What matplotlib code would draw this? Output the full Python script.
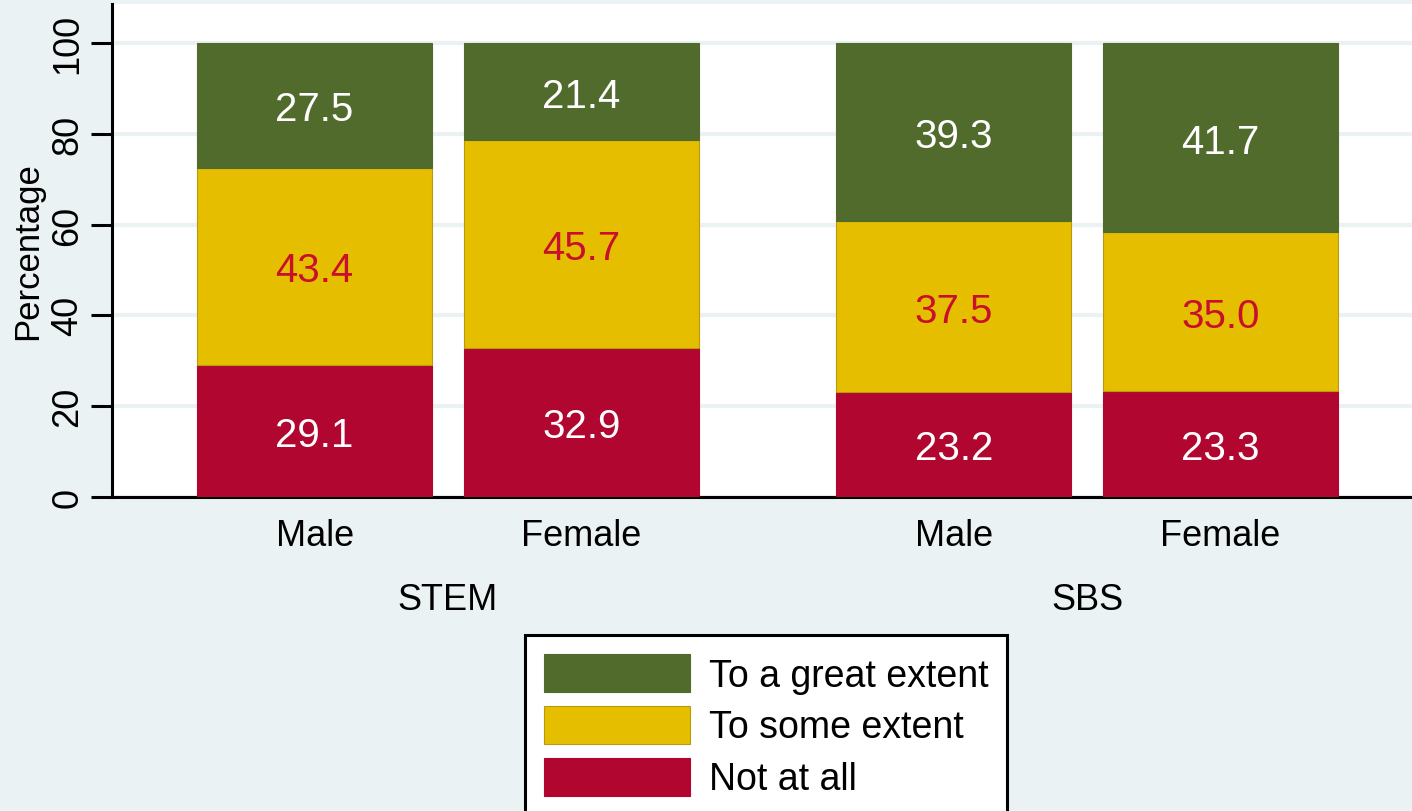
import matplotlib
matplotlib.use("Agg")
import matplotlib.pyplot as plt
import matplotlib.transforms as mtransforms
import numpy as np

plt.rcParams["font.family"] = ["Liberation Sans", "DejaVu Sans"]

# data
groups = ["STEM", "SBS"]
genders = ["Male", "Female"]
levels = ["Not at all", "To some extent", "To a great extent"]
not_at_all = [29.1, 32.9, 23.2, 23.3]
some_extent = [43.4, 45.7, 37.5, 35.0]
great_extent = [27.5, 21.4, 39.3, 41.7]

colors = {"Not at all": "#B00630", "To some extent": "#E6BE00", "To a great extent": "#506B2C"}
edges = {"Not at all": "#B00630", "To some extent": "#B89A10", "To a great extent": "#506B2C"}
label_colors = {"Not at all": "white", "To some extent": "#C8102E", "To a great extent": "white"}

bg = "#EAF2F3"
fig = plt.figure(figsize=(14.12, 8.12), dpi=100, facecolor=bg)
ax = fig.add_axes([112 / 1412, 1 - 498 / 812, 1300 / 1412, 493 / 812])
ax.set_facecolor("white")

# bar positions: width 1, small gap inside a group, bigger gap between groups
inner_step = 1.135
group_step = 2.72
x = []
for g in range(len(groups)):
    for k in range(len(genders)):
        x.append(g * group_step + k * inner_step)
x = np.array(x)

series = {"Not at all": not_at_all, "To some extent": some_extent, "To a great extent": great_extent}
bottom = np.zeros(len(x))
handles = {}
for lev in levels:
    vals = np.array(series[lev])
    bars = ax.bar(x, vals, width=1.0, bottom=bottom, color=colors[lev],
                  edgecolor=edges[lev], linewidth=0.8, zorder=3, label=lev)
    handles[lev] = bars
    for xi, b, v in zip(x, bottom, vals):
        ax.text(xi, b + v / 2, f"{v:.1f}", ha="center", va="center_baseline",
                fontsize=29, color=label_colors[lev], zorder=4)
    bottom += vals

ax.set_xlim(-0.862, 4.67)
ax.set_ylim(0, 108.6)
ax.set_yticks([0, 20, 40, 60, 80, 100])
ax.set_yticklabels(["0", "20", "40", "60", "80", "100"], rotation=90, va="center", fontsize=26)
ax.tick_params(axis="y", length=15, width=2.2, pad=4, color="black")
ax.set_xticks([])
ax.yaxis.grid(True, color=bg, linewidth=3, zorder=0)
ax.set_axisbelow(True)
ax.set_ylabel("Percentage", fontsize=25)
ax.yaxis.set_label_coords(-0.052, 0.5)

for s in ["top", "right"]:
    ax.spines[s].set_visible(False)
for s in ["left", "bottom"]:
    ax.spines[s].set_linewidth(2.2)
    ax.spines[s].set_color("black")

trans = mtransforms.blended_transform_factory(ax.transData, ax.transAxes)
for i, xi in enumerate(x):
    ax.text(xi, -0.079, genders[i % 2], transform=trans, ha="center", va="center", fontsize=26)
for g, name in enumerate(groups):
    gx = g * group_step + inner_step / 2
    ax.text(gx, -0.207, name, transform=trans, ha="center", va="center", fontsize=26)

leg_order = ["To a great extent", "To some extent", "Not at all"]
leg = fig.legend([handles[l] for l in leg_order], leg_order, loc="upper center",
                 bbox_to_anchor=(766 / 1412, 1 - 636 / 812), fontsize=27,
                 frameon=True, fancybox=False, edgecolor="black", framealpha=1,
                 handlelength=3.9, handleheight=1.2, handletextpad=0.5,
                 labelspacing=0.32, borderpad=0.5, borderaxespad=0)
leg.get_frame().set_linewidth(2.2)

fig.savefig("out.png", dpi=100, facecolor=bg)
